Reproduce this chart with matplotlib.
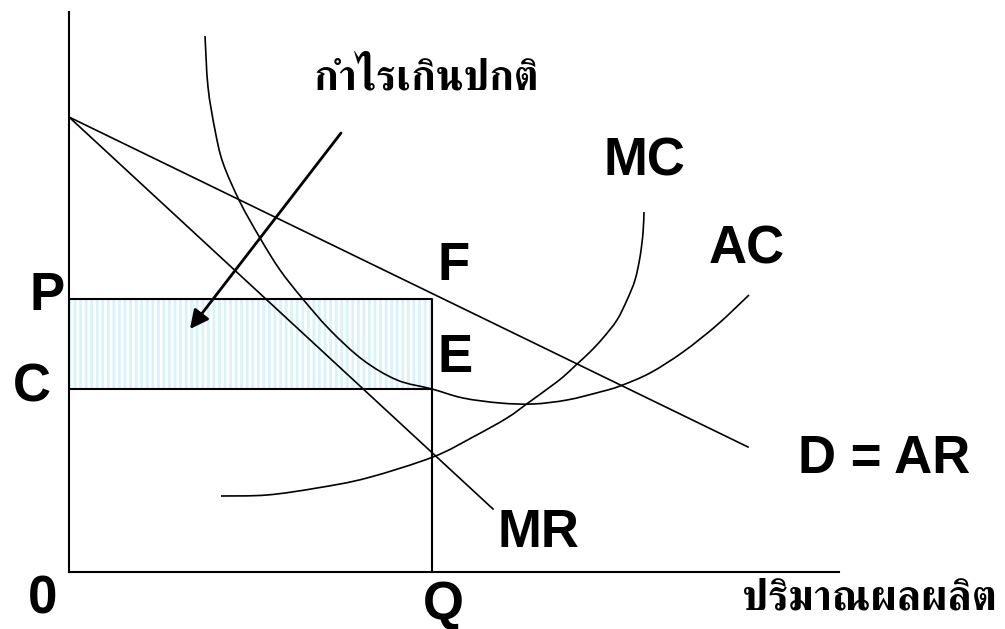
import matplotlib
matplotlib.use('Agg')
import matplotlib.pyplot as plt
from matplotlib.patches import Rectangle, PathPatch
from matplotlib.path import Path

# everything is in picture units: quantity to the right, price downward
origin = (69, 572)
y_axis_top = 12
x_axis_end = 839

demand_q = [69, 748]
demand_p = [117, 447]

mr_q = [69, 493]
mr_p = [117, 509]

ac_q = [205, 208, 215, 223, 240, 260, 280, 302, 330, 363, 397, 432, 463, 500,
        533, 567, 600, 620, 650, 683, 717, 749]
ac_p = [36, 87, 130, 163, 202, 238, 270, 298, 330, 360, 380, 389, 398, 403,
        404, 400, 392, 386, 373, 352, 325, 295]

mc_q = [221, 267, 317, 367, 433, 473, 507, 528, 550, 563, 576, 590, 603, 617,
        627, 635, 640, 643, 644]
mc_p = [496, 495, 488, 478, 457, 437, 418, 403, 387, 377, 365, 352, 338, 320,
        300, 280, 257, 233, 212]

q_star = 432
p_star = 299
c_star = 389

arrow_from = (341, 133)
arrow_to = (190, 329)

labels = ['P', 'C', '0', 'Q', 'F', 'E', 'MC', 'AC', 'D = AR', 'MR']
label_x = [47, 32, 43, 443, 454, 455, 644, 747, 884, 538]
label_y = [310, 402, 613, 619, 280, 372, 175, 263, 473, 547]

title_th = 'กำไรเกินปกติ'
xlabel_th = 'ปริมาณผลผลิต'


def smooth_path(xs, ys):
    # bezier segments through the read points
    pts = list(zip(xs, ys))
    verts = [pts[0]]
    codes = [Path.MOVETO]
    for i in range(len(pts) - 1):
        p0 = pts[max(i - 1, 0)]
        p1 = pts[i]
        p2 = pts[i + 1]
        p3 = pts[min(i + 2, len(pts) - 1)]
        c1 = (p1[0] + (p2[0] - p0[0]) / 6, p1[1] + (p2[1] - p0[1]) / 6)
        c2 = (p2[0] - (p3[0] - p1[0]) / 6, p2[1] - (p3[1] - p1[1]) / 6)
        verts += [c1, c2, p2]
        codes += [Path.CURVE4] * 3
    return Path(verts, codes)


plt.rcParams['hatch.linewidth'] = 2.0

fig = plt.figure(figsize=(10.05, 6.29), dpi=100)
ax = fig.add_axes([0, 0, 1, 1])
ax.set_xlim(0, 1005)
ax.set_ylim(629, 0)
ax.axis('off')

# shaded profit area
ax.add_patch(Rectangle((origin[0], p_star), q_star - origin[0], c_star - p_star,
                       facecolor='white', edgecolor='#d8f3f9', hatch='|||', lw=0))
ax.plot([origin[0], q_star, q_star], [p_star, p_star, origin[1]], color='black', lw=1.5)
ax.plot([origin[0], q_star], [c_star, c_star], color='black', lw=1.5)

# axes
ax.plot([origin[0], origin[0]], [y_axis_top, origin[1]], color='black', lw=1.5)
ax.plot([origin[0], x_axis_end], [origin[1], origin[1]], color='black', lw=1.5)

# curves
ax.plot(demand_q, demand_p, color='black', lw=1.2)
ax.plot(mr_q, mr_p, color='black', lw=1.2)
ax.add_patch(PathPatch(smooth_path(ac_q, ac_p), fill=False, color='black', lw=1.2))
ax.add_patch(PathPatch(smooth_path(mc_q, mc_p), fill=False, color='black', lw=1.2))

ax.annotate('', xy=arrow_to, xytext=arrow_from,
            arrowprops=dict(arrowstyle='-|>', color='black', lw=2,
                            mutation_scale=28, shrinkA=0, shrinkB=0))

for s, x, y in zip(labels, label_x, label_y):
    ax.text(x, y, s, ha='center', va='baseline', fontsize=38,
            fontweight='bold', family='Liberation Sans')

ax.text(426, 90, title_th, ha='center', va='baseline', fontsize=30,
        fontweight='bold', family=['FreeSerif', 'DejaVu Sans'])
ax.text(869, 609, xlabel_th, ha='center', va='baseline', fontsize=30.5,
        fontweight='bold', family=['FreeSerif', 'DejaVu Sans'])

fig.savefig('out.png', dpi=100)
